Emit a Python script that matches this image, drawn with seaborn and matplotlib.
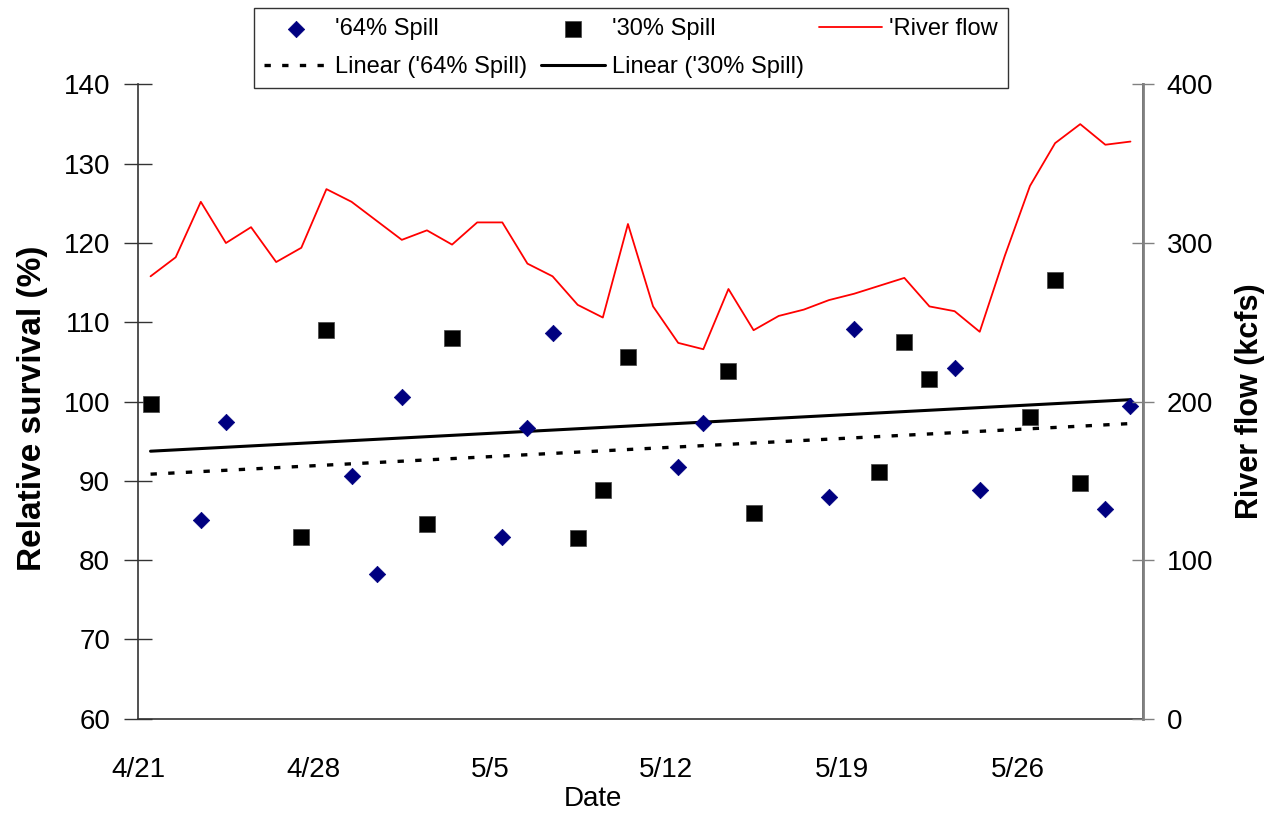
import numpy as np
import pandas as pd
import matplotlib.pyplot as plt
import seaborn as sns

# daily river flow (kcfs), 4/21 .. 5/30
start = pd.Timestamp('2000-04-21')
flow = [279, 291, 326, 300, 310, 288, 297, 334, 326, 314,
        302, 308, 299, 313, 313, 287, 279, 261, 253, 312,
        260, 237, 233, 271, 245, 254, 258, 264, 268, 273,
        278, 260, 257, 244, 292, 336, 363, 375, 362, 364]

# relative survival (%) for the two spill levels
days64 = ['4/23', '4/24', '4/29', '4/30', '5/1', '5/5', '5/6', '5/7',
          '5/12', '5/13', '5/18', '5/19', '5/23', '5/24', '5/29', '5/30']
surv64 = [85.0, 97.4, 90.6, 78.3, 100.6, 82.9, 96.7, 108.6,
          91.7, 97.3, 88.0, 109.1, 104.2, 88.9, 86.5, 99.5]

days30 = ['4/21', '4/27', '4/28', '5/2', '5/3', '5/8', '5/9', '5/10',
          '5/14', '5/15', '5/20', '5/21', '5/22', '5/26', '5/27', '5/28']
surv30 = [99.7, 82.9, 109.0, 84.5, 108.0, 82.8, 88.9, 105.6,
          103.8, 86.0, 91.1, 107.5, 102.8, 98.0, 115.3, 89.7]

tick_labels = ['4/21', '4/28', '5/5', '5/12', '5/19', '5/26']

half = pd.Timedelta(hours=12)
all_days = pd.date_range(start, periods=len(flow))
flow_df = pd.DataFrame({'date': all_days + half, 'flow': flow})
d64 = pd.DataFrame({'date': pd.to_datetime([d + '/2000' for d in days64]) + half, 'surv': surv64})
d30 = pd.DataFrame({'date': pd.to_datetime([d + '/2000' for d in days30]) + half, 'surv': surv30})

# linear trendlines
xall = (all_days - start).days.values
def trend(df):
    x = (df['date'] - half - start).dt.days.values
    k, b = np.polyfit(x, df['surv'].values, 1)
    return pd.DataFrame({'date': all_days + half, 'fit': k * xall + b})
t64 = trend(d64)
t30 = trend(d30)

sns.set_style('white')
plt.rcParams['font.family'] = ['Liberation Sans', 'DejaVu Sans']
plt.rcParams['text.color'] = 'black'
plt.rcParams['axes.labelcolor'] = 'black'
plt.rcParams['xtick.labelcolor'] = 'black'
plt.rcParams['ytick.labelcolor'] = 'black'

fig = plt.figure(figsize=(12.8, 8.14), dpi=100)
ax = fig.add_axes([0.1078, 0.1172, 0.7852, 0.779])
ax2 = ax.twinx()

sns.lineplot(data=flow_df, x='date', y='flow', ax=ax2, color='#ff0000', lw=1.3,
             label="'River flow", legend=False)
sns.scatterplot(data=d64, x='date', y='surv', ax=ax, marker='D', s=70, color='#000080',
                edgecolor='#000080', linewidth=0.5, label="'64% Spill", legend=False, zorder=3)
sns.scatterplot(data=d30, x='date', y='surv', ax=ax, marker='s', s=135, color='black',
                edgecolor='#444444', linewidth=0.5, label="'30% Spill", legend=False, zorder=3)
sns.lineplot(data=t64, x='date', y='fit', ax=ax, color='black', lw=2.4,
             dashes=False, label="Linear ('64% Spill)", legend=False)
sns.lineplot(data=t30, x='date', y='fit', ax=ax, color='black', lw=2.2,
             label="Linear ('30% Spill)", legend=False)
ax.lines[0].set_dashes([1.9, 3.4])

ax.set_xlim(start, start + pd.Timedelta(days=40))
ax.set_ylim(60, 140)
ax.set_yticks(range(60, 141, 10))
ax2.set_ylim(0, 400)
ax2.set_yticks(range(0, 401, 100))
ticks = pd.to_datetime([t + '/2000' for t in tick_labels])
ax.set_xticks(ticks)
ax.set_xticklabels(tick_labels)

for a in (ax, ax2):
    a.spines['top'].set_visible(False)
    for s in a.spines.values():
        s.set_color('#333333')
        s.set_linewidth(1.2)
ax2.spines['right'].set_color('#808080')
ax2.spines['right'].set_linewidth(2)
ax2.spines['left'].set_visible(False)
ax2.spines['bottom'].set_visible(False)

ax.tick_params(axis='y', direction='inout', length=20, width=1, color='#333333', labelsize=20, pad=10)
ax.tick_params(axis='x', direction='inout', length=20, width=1, color='#333333', labelsize=20, pad=18)
ax2.tick_params(axis='y', direction='inout', length=16, width=1, color='#808080', labelsize=20, pad=9)

ax.set_xlabel('Date', fontsize=20)
ax.xaxis.set_label_coords(0.453, -0.107)
ax.set_ylabel('Relative survival (%)', fontsize=24, fontweight='bold')
ax.yaxis.set_label_coords(-0.09, 0.49)
ax2.set_ylabel('River flow (kcfs)', fontsize=22, fontweight='bold')
ax2.yaxis.set_label_coords(1.0915, 0.5)

h1, l1 = ax.get_legend_handles_labels()
h2, l2 = ax2.get_legend_handles_labels()
hd = dict(zip(l1 + l2, h1 + h2))
order = ["'64% Spill", "Linear ('64% Spill)", "'30% Spill", "Linear ('30% Spill)", "'River flow"]
leg = fig.legend([hd[k] for k in order], order, ncol=3, loc='upper left',
                 bbox_to_anchor=(254 / 1280, 1 - 86 / 814, 754 / 1280, 78 / 814),
                 mode='expand', frameon=True, fancybox=False, edgecolor='black',
                 fontsize=17, handlelength=2.7, handletextpad=0.3, scatterpoints=1,
                 borderaxespad=0, labelspacing=0.7, borderpad=0.42)
leg.get_frame().set_linewidth(1.0)

fig.savefig('out.png', dpi=100)
